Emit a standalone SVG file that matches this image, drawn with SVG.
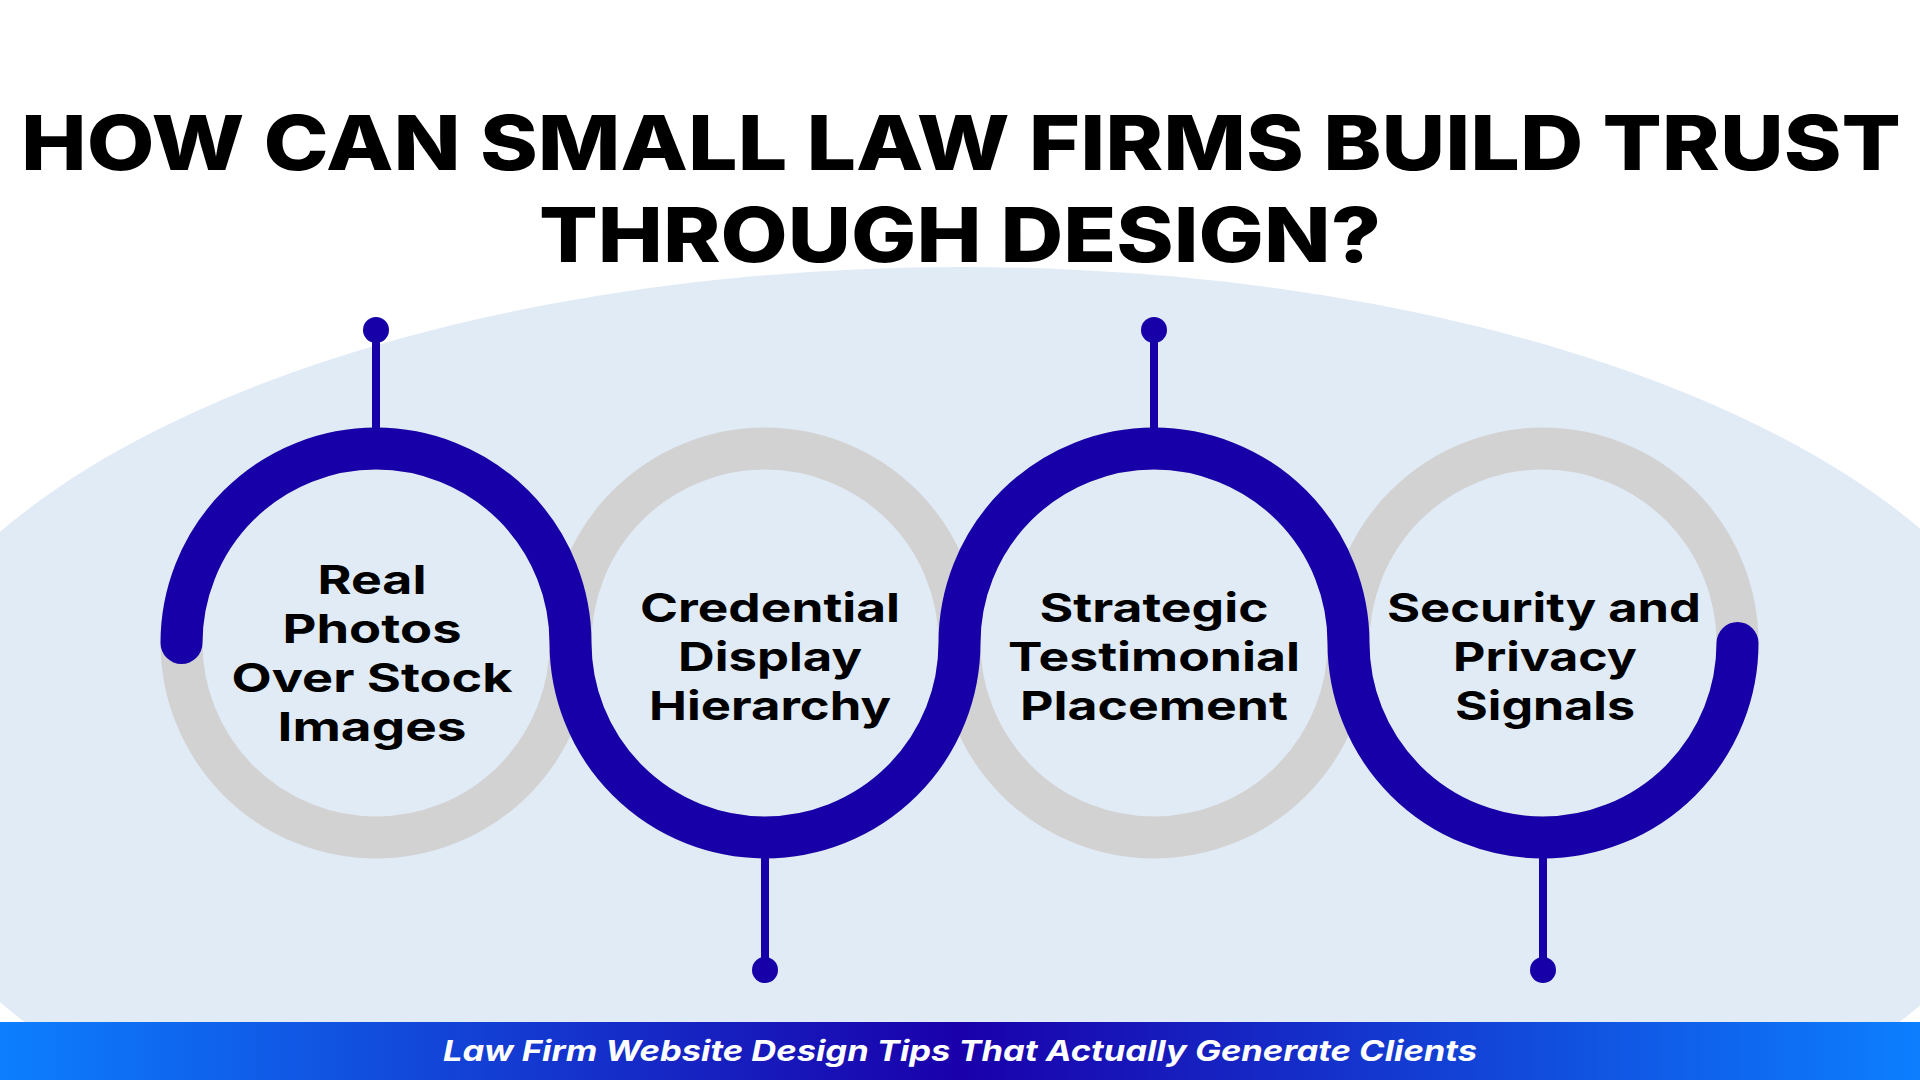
<svg xmlns="http://www.w3.org/2000/svg" width="1920" height="1080" viewBox="0 0 1920 1080">
<defs>
<linearGradient id="bannerGrad" x1="0" y1="0" x2="1" y2="0">
<stop offset="0" stop-color="#0C7FFF"/>
<stop offset="0.5" stop-color="#1A00AA"/>
<stop offset="1" stop-color="#0C7FFF"/>
</linearGradient>
<style>
.title{font-family:Inter,"Liberation Sans",sans-serif;font-weight:800;font-size:76px;fill:#000;text-anchor:middle}
.label{font-family:Inter,"Liberation Sans",sans-serif;font-weight:700;font-size:40px;fill:#000;text-anchor:middle}
.ring{fill:none;stroke:#D2D2D2;stroke-width:42}
.blue{fill:none;stroke:#1800A8;stroke-width:42;stroke-linecap:round}
.stem{stroke:#1800A8;stroke-width:8}
.dot{fill:#1800A8}
.banner{font-family:Inter,"Liberation Sans",sans-serif;font-weight:700;font-style:italic;font-size:29px;fill:#fff;text-anchor:middle}
</style>
</defs>
<rect width="1920" height="1080" fill="#FFFFFF"/>
<ellipse cx="962" cy="767" rx="1090" ry="500" fill="#E1EBF6"/>
<g id="title">
<text class="title" x="961" y="170" textLength="1880" lengthAdjust="spacingAndGlyphs">HOW CAN SMALL LAW FIRMS BUILD TRUST</text>
<text class="title" x="960" y="262" textLength="842" lengthAdjust="spacingAndGlyphs">THROUGH DESIGN?</text>
</g>
<g id="rings">
<circle class="ring" cx="376" cy="643" r="194.5"/>
<circle class="ring" cx="765" cy="643" r="194.5"/>
<circle class="ring" cx="1154" cy="643" r="194.5"/>
<circle class="ring" cx="1543" cy="643" r="194.5"/>
</g>
<g id="connectors">
<path class="blue" d="M181.5 643 A194.5 194.5 0 0 1 570.5 643 A194.5 194.5 0 0 0 959.5 643 A194.5 194.5 0 0 1 1348.5 643 A194.5 194.5 0 0 0 1737.5 643"/>
<line class="stem" x1="376" y1="330" x2="376" y2="432"/>
<circle class="dot" cx="376" cy="330" r="13"/>
<line class="stem" x1="765" y1="854" x2="765" y2="970"/>
<circle class="dot" cx="765" cy="970" r="13"/>
<line class="stem" x1="1154" y1="330" x2="1154" y2="432"/>
<circle class="dot" cx="1154" cy="330" r="13"/>
<line class="stem" x1="1543" y1="854" x2="1543" y2="970"/>
<circle class="dot" cx="1543" cy="970" r="13"/>
</g>
<g id="node1">
<text class="label" x="372" y="594" textLength="109" lengthAdjust="spacingAndGlyphs">Real</text>
<text class="label" x="372" y="643" textLength="179" lengthAdjust="spacingAndGlyphs">Photos</text>
<text class="label" x="372" y="692" textLength="281" lengthAdjust="spacingAndGlyphs">Over Stock</text>
<text class="label" x="372" y="741" textLength="189" lengthAdjust="spacingAndGlyphs">Images</text>
</g>
<g id="node2">
<text class="label" x="770" y="622" textLength="260" lengthAdjust="spacingAndGlyphs">Credential</text>
<text class="label" x="770" y="671" textLength="184" lengthAdjust="spacingAndGlyphs">Display</text>
<text class="label" x="770" y="720" textLength="242" lengthAdjust="spacingAndGlyphs">Hierarchy</text>
</g>
<g id="node3">
<text class="label" x="1154" y="622" textLength="229" lengthAdjust="spacingAndGlyphs">Strategic</text>
<text class="label" x="1154" y="671" textLength="292" lengthAdjust="spacingAndGlyphs">Testimonial</text>
<text class="label" x="1154" y="720" textLength="268" lengthAdjust="spacingAndGlyphs">Placement</text>
</g>
<g id="node4">
<text class="label" x="1544" y="622" textLength="314" lengthAdjust="spacingAndGlyphs">Security and</text>
<text class="label" x="1545" y="671" textLength="184" lengthAdjust="spacingAndGlyphs">Privacy</text>
<text class="label" x="1545" y="720" textLength="180" lengthAdjust="spacingAndGlyphs">Signals</text>
</g>
<g id="banner">
<rect x="0" y="1022" width="1920" height="58" fill="url(#bannerGrad)"/>
<text class="banner" x="960" y="1061" textLength="1034" lengthAdjust="spacingAndGlyphs">Law Firm Website Design Tips That Actually Generate Clients</text>
</g>
</svg>
